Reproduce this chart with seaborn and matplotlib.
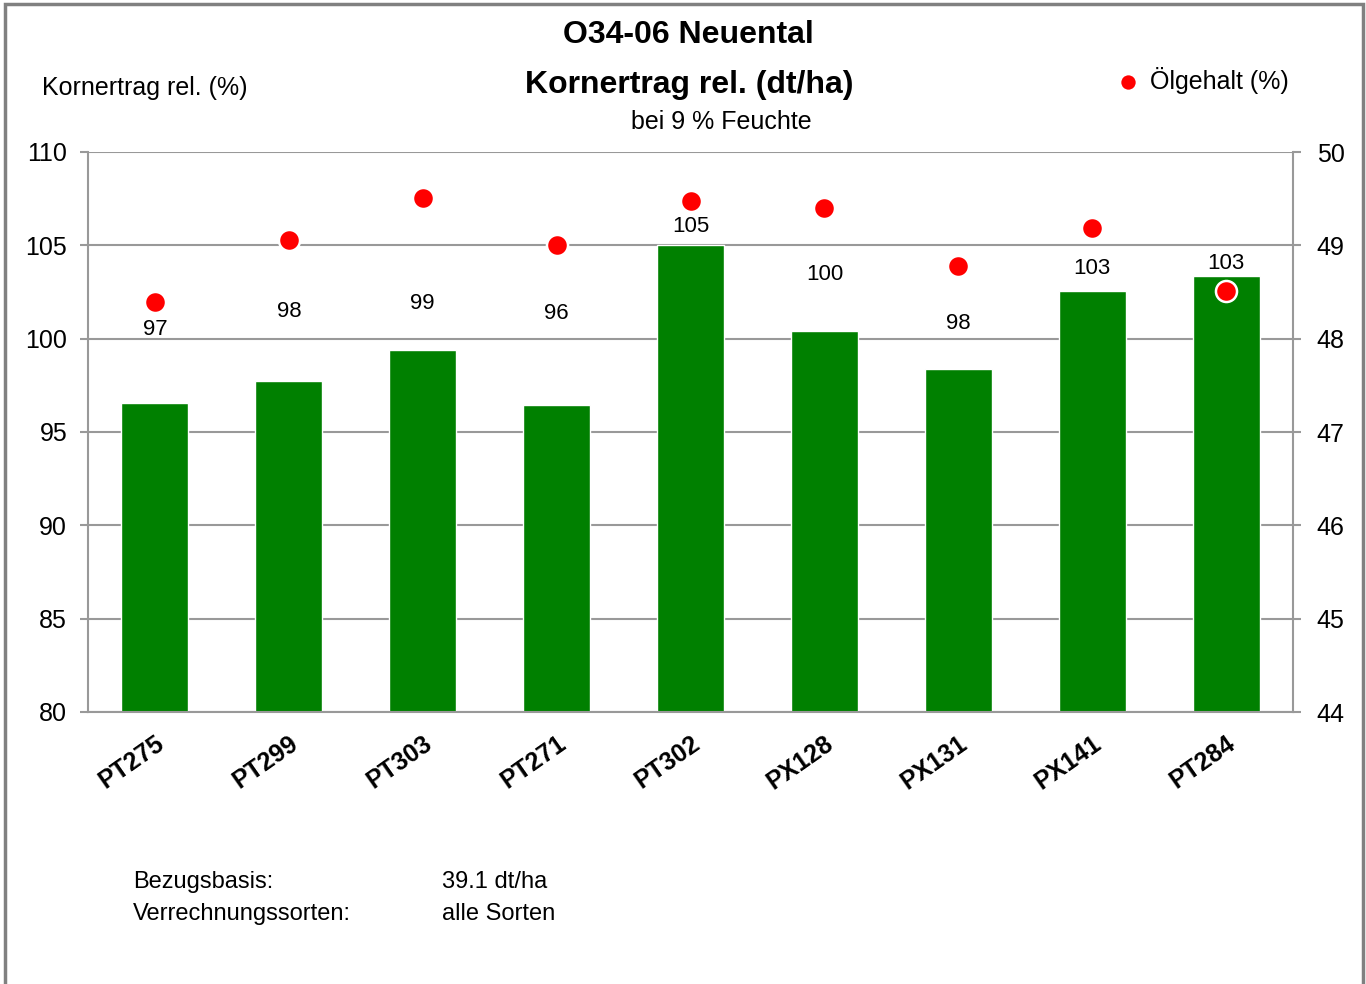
import numpy as np
import pandas as pd
import matplotlib
matplotlib.use("Agg")
import matplotlib.pyplot as plt
import seaborn as sns
from matplotlib.patches import Rectangle

sorten = ["PT275", "PT299", "PT303", "PT271", "PT302", "PX128", "PX131", "PX141", "PT284"]
ertrag_rel = [96.55, 97.75, 99.4, 96.45, 105.0, 100.4, 98.35, 102.55, 103.35]
oelgehalt = [48.39, 49.06, 49.51, 49.0, 49.48, 49.4, 48.78, 49.19, 48.51]
ertrag_labels = ["97", "98", "99", "96", "105", "100", "98", "103", "103"]

# label offsets above bar tops (pixels), hand-placed like the original
label_offsets_px = [74, 69, 46, 91, 19, 57, 46, 23, 13]

df = pd.DataFrame({"sorte": sorten, "ertrag": ertrag_rel, "oel": oelgehalt})

sns.set_style("white")
plt.rcParams["font.family"] = ["Liberation Sans", "DejaVu Sans"]
plt.rcParams["text.color"] = "black"
plt.rcParams["xtick.color"] = "black"
plt.rcParams["ytick.color"] = "black"
plt.rcParams["xtick.labelcolor"] = "black"
plt.rcParams["ytick.labelcolor"] = "black"

fig = plt.figure(figsize=(13.66, 9.84), dpi=100)
ax = fig.add_axes([88 / 1366, 1 - 712 / 984, (1293 - 88) / 1366, (712 - 152) / 984])
ax.set_zorder(1)

sns.barplot(data=df, x="sorte", y="ertrag", color="#008000", saturation=1,
            width=0.5, ax=ax, zorder=2)
ax.set_ylim(80, 110)
ax.set_xlim(-0.5, len(sorten) - 0.5)
ax.set_yticks(range(80, 111, 5))
ax.yaxis.grid(True, color="#999999", linewidth=1.5, zorder=0)
ax.set_axisbelow(True)
ax.set_xlabel("")
ax.set_ylabel("")

# category boundary ticks + centered labels
n = len(sorten)
ax.set_xticks(np.arange(n + 1) - 0.5)
ax.set_xticklabels([""] * (n + 1))
ax.set_xticks(np.arange(n), minor=True)
ax.set_xticklabels(sorten, minor=True, rotation=35, ha="right",
                   rotation_mode="anchor", fontsize=18, fontweight="bold")
ax.tick_params(axis="x", which="major", length=6, width=1.5, color="#999999", direction="out")
ax.tick_params(axis="x", which="minor", length=0, pad=14)
ax.tick_params(axis="y", length=6, width=1.5, color="#999999", direction="out",
               labelsize=18, pad=9)
for s in ["left", "bottom", "right"]:
    ax.spines[s].set_color("#999999")
    ax.spines[s].set_linewidth(1.5)
ax.spines["top"].set_visible(False)

for i, (v, lab, off) in enumerate(zip(ertrag_rel, ertrag_labels, label_offsets_px)):
    ax.annotate(lab, (i, v), xytext=(0, off * 0.72), textcoords="offset points",
                ha="center", va="center", fontsize=16, zorder=5)

ax2 = ax.twinx()
ax2.set_zorder(2)
sns.scatterplot(x=np.arange(n), y=oelgehalt, ax=ax2, color="#ff0000", s=230,
                edgecolor="white", linewidth=1.8, zorder=6, label="Ölgehalt (%)")
ax2.set_ylim(44, 50)
ax2.set_yticks(range(44, 51, 1))
ax2.tick_params(axis="y", length=6, width=1.5, color="#999999", direction="out",
                labelsize=18, pad=11)
for s in ["left", "bottom", "right", "top"]:
    ax2.spines[s].set_visible(False)
ax2.set_xlim(-0.5, n - 0.5)
leg = ax2.legend(loc="center left", bbox_to_anchor=(1115 / 1366, 1 - 80 / 984),
                 bbox_transform=fig.transFigure, frameon=False, fontsize=18,
                 markerscale=0.8, handlelength=1.0, handletextpad=0.38,
                 borderpad=0, borderaxespad=0)

# texts
fig.text(688 / 1366, 1 - 35 / 984, "O34-06 Neuental", ha="center", va="center",
         fontsize=23, fontweight="bold")
fig.text(689 / 1366, 1 - 85 / 984, "Kornertrag rel. (dt/ha)", ha="center", va="center",
         fontsize=23, fontweight="bold")
fig.text(721 / 1366, 1 - 122 / 984, "bei 9 % Feuchte", ha="center", va="center", fontsize=18)
fig.text(42 / 1366, 1 - 88 / 984, "Kornertrag rel. (%)", ha="left", va="center", fontsize=18)
fig.text(133 / 1366, 1 - 882 / 984, "Bezugsbasis:", ha="left", va="center", fontsize=17)
fig.text(442 / 1366, 1 - 882 / 984, "39.1 dt/ha", ha="left", va="center", fontsize=17)
fig.text(133 / 1366, 1 - 914 / 984, "Verrechnungssorten:", ha="left", va="center", fontsize=17)
fig.text(442 / 1366, 1 - 914 / 984, "alle Sorten", ha="left", va="center", fontsize=17)

# outer chart frame
fig.patches.append(Rectangle((5 / 1366, -0.02), 1358 / 1366, 1.02 - 4 / 984,
                             transform=fig.transFigure, fill=False,
                             edgecolor="#808080", linewidth=2.5))

fig.savefig("out.png", dpi=100)
